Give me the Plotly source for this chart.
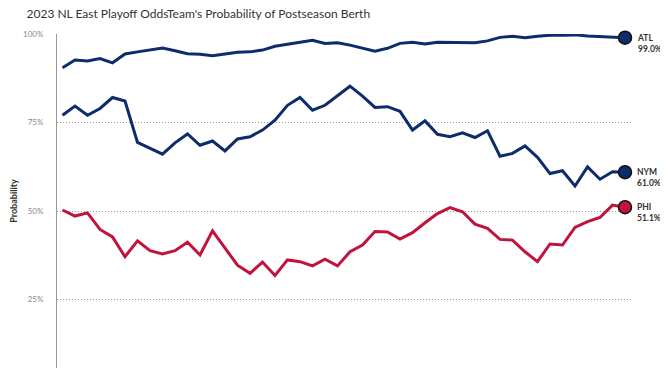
import plotly.graph_objects as go

games = list(range(46))
atl = [90.5, 92.7, 92.4, 93.1, 91.9, 94.4, 95.0, 95.5, 96.1, 95.3, 94.5, 94.3, 93.9, 94.4, 94.9, 95.0,
       95.5, 96.6, 97.2, 97.6, 98.3, 97.4, 97.6, 96.9, 96.0, 95.2, 96.0, 97.4, 97.7, 97.2, 97.7, 97.6,
       97.6, 97.6, 98.1, 99.1, 99.4, 99.0, 99.4, 99.7, 99.7, 99.8, 99.5, 99.4, 99.2, 99.0]
nym = [77.1, 79.7, 77.1, 79.0, 82.1, 81.1, 69.4, 67.7, 66.1, 69.3, 71.8, 68.6, 69.8, 67.0, 70.4, 71.0,
       72.9, 75.7, 79.9, 82.1, 78.5, 79.9, 82.5, 85.3, 82.5, 79.3, 79.5, 78.2, 72.9, 75.5, 71.7, 71.0,
       72.1, 70.8, 72.7, 65.5, 66.3, 68.4, 65.2, 60.6, 61.4, 57.1, 62.5, 59.0, 61.1, 61.0]
phi = [50.3, 48.6, 49.5, 44.8, 42.7, 37.1, 41.6, 38.8, 37.9, 38.8, 41.2, 37.6, 44.4, 39.5, 34.7, 32.4,
       35.6, 31.8, 36.2, 35.7, 34.5, 36.4, 34.5, 38.5, 40.4, 44.2, 44.1, 42.1, 43.9, 46.7, 49.3, 51.0,
       49.8, 46.3, 45.1, 42.0, 41.8, 38.5, 35.7, 40.7, 40.4, 45.4, 47.0, 48.2, 51.7, 51.1]
teams = ["ATL", "NYM", "PHI"]
series = [atl, nym, phi]
colors = ["#0c2c6b", "#0c2c6b", "#c0143c"]
yticks = [25, 50, 75, 100]
yticklabels = ["25%", "50%", "75%", "100%"]

fig = go.Figure()
for name, vals, col in zip(teams, series, colors):
    fig.add_trace(go.Scatter(x=games, y=vals, mode="lines", line=dict(color=col, width=3),
                             name=name, showlegend=False, hoverinfo="skip"))
    fig.add_trace(go.Scatter(x=[games[-1]], y=[vals[-1]], mode="markers",
                             marker=dict(size=13, color=col, line=dict(color="#111", width=1.5)),
                             showlegend=False, hoverinfo="skip", cliponaxis=False))
    fig.add_annotation(x=games[-1], y=vals[-1], xref="x", yref="y",
                       text=f"<b>{name}</b><br><b>{vals[-1]:.1f}%</b>",
                       showarrow=False, xanchor="left", yanchor="top", align="left",
                       xshift=10, yshift=7,
                       font=dict(family="Lato", size=8.5, color="#333"))

fig.update_layout(
    width=660, height=360,
    margin=dict(l=49, r=37, t=26, b=0, autoexpand=False),
    plot_bgcolor="white", paper_bgcolor="white",
    title=dict(text="2023 NL East Playoff OddsTeam's Probability of Postseason Berth",
               x=18.5 / 660, xanchor="left", y=1 - 2 / 360, yanchor="top", pad=dict(l=0, t=0),
               font=dict(family="Lato", size=12, color="#333")),
    xaxis=dict(range=[-0.44, 45.48], showgrid=False, showticklabels=False, zeroline=False,
               showline=False, ticks="", automargin=False),
    yaxis=dict(range=[5.65, 100.05], tickvals=yticks, ticktext=yticklabels, automargin=False,
               showgrid=True, gridcolor="#999", griddash="1px,2px", gridwidth=1,
               showline=True, linecolor="#999", linewidth=1, zeroline=False,
               ticks="", ticklabelstandoff=11,
               tickfont=dict(family="Lato", size=8, color="#888"),
               title=dict(text="<b>Probability</b>", standoff=20,
                          font=dict(family="Lato", size=9, color="#333"))),
)

fig.write_html("out.html")
